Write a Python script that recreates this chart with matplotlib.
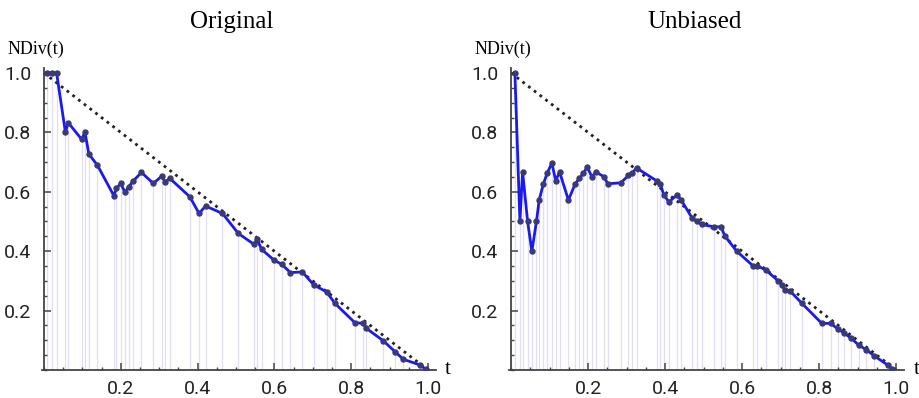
import numpy as np
import matplotlib
matplotlib.use("Agg")
import matplotlib.pyplot as plt
from matplotlib.ticker import MultipleLocator

# values
t_orig = [0.007, 0.02, 0.033, 0.056, 0.063, 0.098, 0.107, 0.117, 0.139, 0.182,
          0.189, 0.2, 0.211, 0.221, 0.233, 0.254, 0.285, 0.308, 0.315, 0.328,
          0.38, 0.404, 0.421, 0.465, 0.506, 0.547, 0.555, 0.567, 0.599, 0.619,
          0.642, 0.673, 0.703, 0.736, 0.758, 0.81, 0.832, 0.84, 0.884, 0.914,
          0.936, 0.979, 0.995]
nd_orig = [1.0, 1.0, 1.0, 0.80, 0.833, 0.777, 0.80, 0.727, 0.69, 0.587,
           0.612, 0.628, 0.598, 0.617, 0.637, 0.665, 0.628, 0.654, 0.632, 0.645,
           0.583, 0.527, 0.552, 0.527, 0.46, 0.423, 0.44, 0.406, 0.37, 0.356,
           0.328, 0.33, 0.286, 0.263, 0.224, 0.159, 0.157, 0.14, 0.098, 0.062,
           0.036, 0.017, 0.002]

t_unb = [0.01, 0.023, 0.03, 0.043, 0.054, 0.066, 0.073, 0.084, 0.094, 0.106,
         0.116, 0.126, 0.149, 0.166, 0.177, 0.188, 0.198, 0.21, 0.22, 0.242,
         0.251, 0.285, 0.305, 0.315, 0.326, 0.378, 0.388, 0.397, 0.41, 0.431,
         0.442, 0.471, 0.482, 0.495, 0.527, 0.545, 0.556, 0.586, 0.629, 0.64,
         0.662, 0.694, 0.705, 0.711, 0.724, 0.755, 0.807, 0.83, 0.85, 0.866,
         0.883, 0.903, 0.923, 0.944, 0.978, 0.99]
nd_unb = [1.0, 0.5, 0.667, 0.5, 0.40, 0.5, 0.572, 0.627, 0.663, 0.697,
          0.637, 0.667, 0.572, 0.625, 0.645, 0.663, 0.683, 0.65, 0.667, 0.65,
          0.627, 0.63, 0.655, 0.664, 0.68, 0.637, 0.625, 0.589, 0.566, 0.589,
          0.572, 0.51, 0.5, 0.49, 0.482, 0.482, 0.45, 0.40, 0.35, 0.351,
          0.336, 0.30, 0.287, 0.268, 0.267, 0.225, 0.157, 0.157, 0.137, 0.124,
          0.107, 0.084, 0.068, 0.047, 0.017, 0.003]

ref_t = [0.0, 1.0]
ref_nd = [1.0, 0.0]

titles = ["Original", "Unbiased"]
ticks = [0.2, 0.4, 0.6, 0.8, 1.0]
tick_labels = ["0.2", "0.4", "0.6", "0.8", "1.0"]

serif = "Liberation Serif"
tickfont = "Roboto"

fig = plt.figure(figsize=(9.19, 3.98), dpi=100)
ax_pos = [[0.0457, 0.0704, 0.4283, 0.7575],
          [0.554, 0.0704, 0.4294, 0.7575]]
title_x = [0.252, 0.756]

for pos, title, tx, t, nd in zip(ax_pos, titles, title_x,
                                 [t_orig, t_unb], [nd_orig, nd_unb]):
    ax = fig.add_axes(pos)
    ax.set_xlim(-0.005, 1.02)
    ax.set_ylim(0, 1.015)

    # light drop lines to the axis
    ax.vlines(t, 0, nd, color="#e0e0f2", lw=0.9, zorder=1)
    ax.plot(ref_t, ref_nd, color="#222222", lw=2.0, ls=(0, (1, 1.6)), zorder=2)
    ax.plot(t, nd, color="#1a1aee", lw=2.0, marker="o", ms=3.6,
            mfc="#3a3a78", mec="#3a3a78", zorder=3)

    for s in ["top", "right"]:
        ax.spines[s].set_visible(False)
    ax.spines["left"].set_position(("data", 0))
    for s in ["left", "bottom"]:
        ax.spines[s].set_color("#444444")
        ax.spines[s].set_linewidth(1.3)

    ax.set_xticks(ticks)
    ax.set_xticklabels(tick_labels)
    ax.set_yticks(ticks)
    ax.set_yticklabels(tick_labels)
    ax.xaxis.set_minor_locator(MultipleLocator(0.05))
    ax.yaxis.set_minor_locator(MultipleLocator(0.05))
    ax.tick_params(which="both", direction="in", color="#444444", labelsize=14,
                   labelcolor="#222222")
    ax.tick_params(which="major", length=5, width=1.1)
    ax.tick_params(which="minor", length=2.5, width=1.0)
    ax.tick_params(axis="x", pad=7)
    ax.tick_params(axis="y", pad=9)
    for lab in ax.get_xticklabels() + ax.get_yticklabels():
        lab.set_family(tickfont)

    ax.text(1.045, 0.0, "t", fontsize=15, family=serif, va="center", ha="left",
            clip_on=False)
    ax.text(-0.095, 1.08, "NDiv(t)", fontsize=13, family=serif, va="center",
            ha="left", clip_on=False)
    fig.text(tx, 0.945, title, fontsize=18, family=serif, ha="center",
             va="center")

fig.savefig("out.png", dpi=100)
